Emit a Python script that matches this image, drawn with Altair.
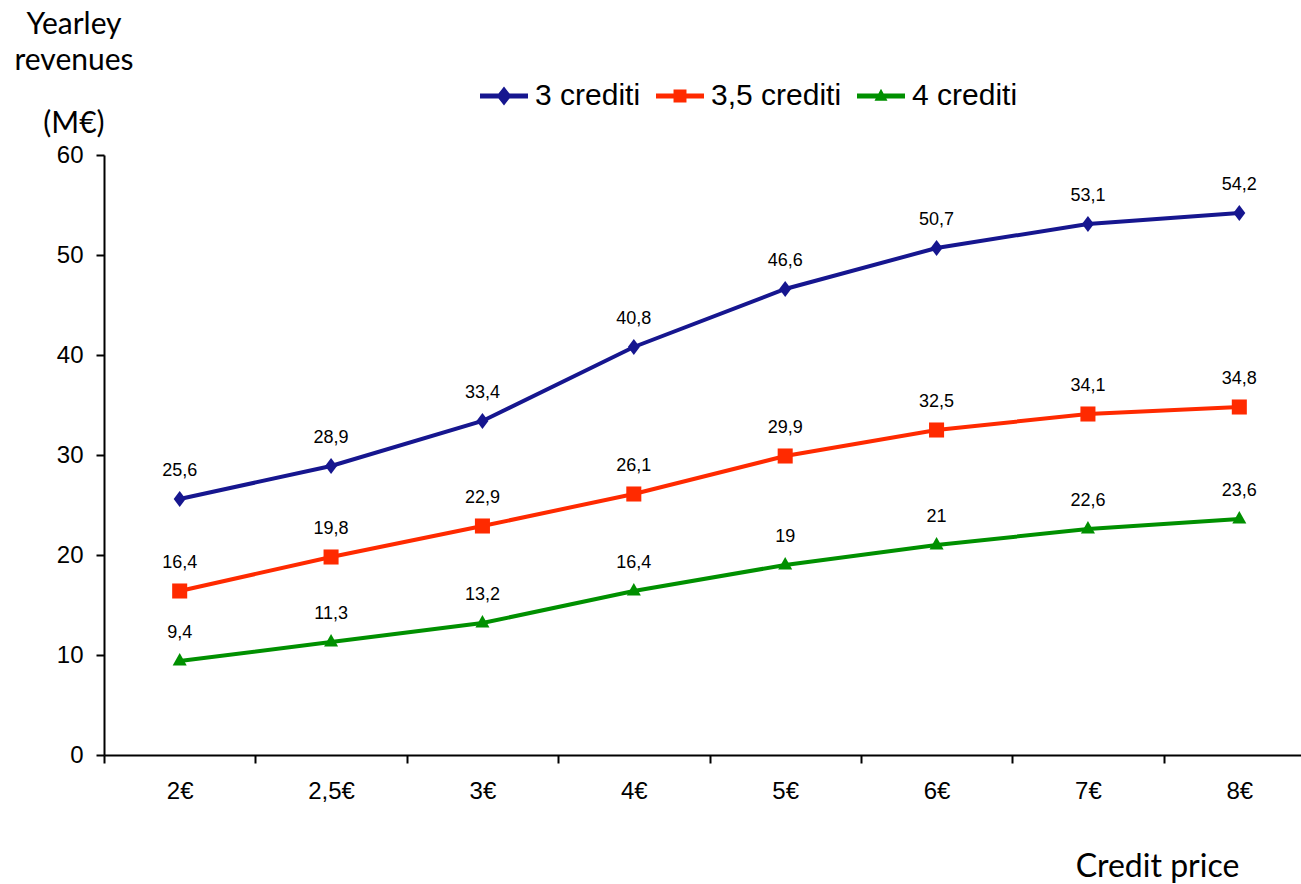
import altair as alt
import pandas as pd

# Credit price categories (x axis)
prices = ["2€", "2,5€", "3€", "4€", "5€", "6€", "7€", "8€"]

# Series names
series = ["3 crediti", "3,5 crediti", "4 crediti"]

# Yearly revenues in M€ per series
rev_3 = [25.6, 28.9, 33.4, 40.8, 46.6, 50.7, 53.1, 54.2]
rev_35 = [16.4, 19.8, 22.9, 26.1, 29.9, 32.5, 34.1, 34.8]
rev_4 = [9.4, 11.3, 13.2, 16.4, 19, 21, 22.6, 23.6]

colors = ["#16168f", "#ff2a00", "#009000"]

# Marker outlines for the points, one per series
marker_paths = [
    "M0,-1L0.75,0L0,1L-0.75,0Z",
    "M-0.94,-0.94H0.94V0.94H-0.94Z",
    "M0,-1L0.875,0.55H-0.875Z",
]

# Legend symbols: a line segment with the series marker in the middle
legend_paths = [
    "M-1,-0.105H1V0.105H-1Z M0,-0.4L0.31,0L0,0.4L-0.31,0Z",
    "M-1,-0.105H1V0.105H-1Z M-0.27,-0.27H0.27V0.27H-0.27Z",
    "M-1,-0.105H1V0.105H-1Z M0,-0.3L0.27,0.2H-0.27Z",
]

rows = []
for name, values in zip(series, [rev_3, rev_35, rev_4]):
    for price, v in zip(prices, values):
        rows.append({
            "price": price,
            "series": name,
            "revenue": v,
            "label": f"{v:g}".replace(".", ","),
        })
df = pd.DataFrame(rows)

x_enc = alt.X(
    "price:N",
    sort=prices,
    scale=alt.Scale(range=[0, 1211], paddingInner=0, paddingOuter=0),
    axis=alt.Axis(
        title="Credit price",
        titleFont="Lato",
        titleFontSize=32,
        titleFontWeight="normal",
        titleColor="black",
        titleX=1053,
        titleY=111,
        titleAlign="center",
        titleBaseline="middle",
        titleAngle=0,
        labelAngle=0,
        labelFont="Liberation Sans",
        labelFontSize=24,
        labelColor="black",
        labelPadding=16,
        tickBand="extent",
        tickSize=8,
        tickWidth=2,
        tickColor="black",
        domainColor="black",
        domainWidth=2,
        grid=False,
    ),
)

y_enc = alt.Y(
    "revenue:Q",
    scale=alt.Scale(domain=[0, 60], nice=False),
    axis=alt.Axis(
        title=None,
        values=[0, 10, 20, 30, 40, 50, 60],
        labelFont="Liberation Sans",
        labelFontSize=24,
        labelColor="black",
        labelPadding=13,
        tickSize=8,
        tickWidth=2,
        tickColor="black",
        domainColor="black",
        domainWidth=2,
        grid=False,
    ),
)

color_scale = alt.Scale(domain=series, range=colors)

legend_style = dict(
    title=None,
    orient="none",
    legendX=376,
    legendY=-83,
    direction="horizontal",
    padding=0,
    labelFont="Liberation Sans",
    labelFontSize=30,
    labelColor="black",
    labelOffset=7,
    columnPadding=15,
    symbolSize=2304,
    symbolStrokeWidth=0,
    symbolOpacity=1,
)

base = alt.Chart(df).encode(x=x_enc, y=y_enc)

# Zero-size points that only carry the legend (line + marker symbols)
legend_layer = base.mark_point(filled=True, opacity=1, size=0).encode(
    color=alt.Color("series:N", scale=color_scale, legend=alt.Legend(**legend_style)),
    shape=alt.Shape(
        "series:N",
        scale=alt.Scale(domain=series, range=legend_paths),
        legend=alt.Legend(**legend_style),
    ),
)

lines = base.mark_line(strokeWidth=4).encode(
    color=alt.Color("series:N", scale=color_scale, legend=None),
    detail="series:N",
)

points = base.mark_point(filled=True, opacity=1, size=256).encode(
    color=alt.Color("series:N", scale=color_scale, legend=None),
    shape=alt.Shape(
        "series:N",
        scale=alt.Scale(domain=series, range=marker_paths),
        legend=None,
    ),
)

labels = base.mark_text(
    font="Liberation Sans", fontSize=18, color="black", dy=-28, baseline="middle"
).encode(text="label:N")

chart = (
    alt.layer(legend_layer, lines, points, labels)
    .resolve_scale(color="independent", shape="independent")
    .properties(
        width=1197,
        height=600,
        background="white",
        autosize=alt.AutoSizeParams(type="none"),
        padding={"left": 104, "top": 155, "right": 0, "bottom": 129},
        title=alt.TitleParams(
            text=["Yearley", "revenues"],
            subtitle="(M€)",
            anchor="start",
            align="center",
            dx=-30,
            font="Lato",
            fontSize=30,
            fontWeight="normal",
            color="black",
            lineHeight=36,
            subtitleFont="Lato",
            subtitleFontSize=30,
            subtitleColor="black",
            subtitlePadding=33,
            offset=-67,
            frame="group",
            orient="top",
        ),
    )
    .configure_view(stroke="transparent", strokeWidth=0)
)

chart.save("out.html", embed_options={"renderer": "svg", "actions": False})
